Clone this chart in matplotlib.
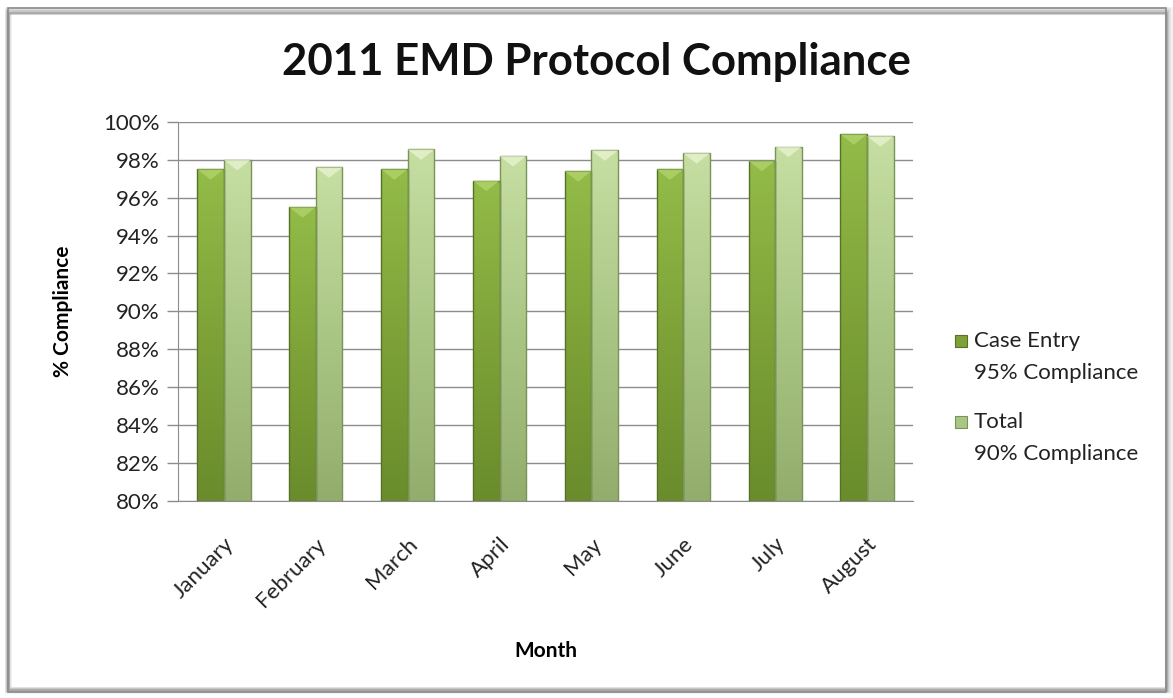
import numpy as np
import matplotlib.pyplot as plt
from matplotlib.patches import Rectangle, Polygon
from matplotlib.colors import LinearSegmentedColormap

months = ['January', 'February', 'March', 'April', 'May', 'June', 'July', 'August']
case_entry = [97.5, 95.5, 97.5, 96.9, 97.4, 97.5, 97.95, 99.35]
total = [98.0, 97.6, 98.55, 98.2, 98.5, 98.35, 98.7, 99.25]
y_ticks = [80, 82, 84, 86, 88, 90, 92, 94, 96, 98, 100]
series_names = ['Case Entry\n95% Compliance', 'Total\n90% Compliance']

plt.rcParams['font.family'] = ['Lato', 'DejaVu Sans']

fig = plt.figure(figsize=(11.73, 6.98), dpi=100)
fig.patch.set_facecolor('white')

# frame with soft shadow
for i, a in enumerate([0.08, 0.12, 0.18, 0.3]):
    off = (4 - i) * 1.0
    fig.patches.append(Rectangle((8 / 1173, 8 / 698), (1157 + off) / 1173, (684 + off) / 698 - 2 * 8 / 698 + 8 / 698,
                                 transform=fig.transFigure, fill=False, edgecolor='#606060',
                                 linewidth=1 + (4 - i), alpha=a, zorder=0))
fig.patches.append(Rectangle((8 / 1173, 6 / 698), 1158 / 1173, 684 / 698, transform=fig.transFigure,
                             fill=False, edgecolor='#8a8a8a', linewidth=1.2))

ax = fig.add_axes([178 / 1173, 1 - 500.7 / 698, 735 / 1173, (500.7 - 122) / 698])

x = np.arange(len(months))
w = 0.29
cmap_case = LinearSegmentedColormap.from_list('c', ['#6a8c2c', '#7ea238', '#92bb48'])
cmap_tot = LinearSegmentedColormap.from_list('t', ['#93ad6c', '#aac685', '#c6dea2'])

ax.set_xlim(-0.5, len(months) - 0.5)
ax.set_ylim(80, 100)

def draw_bars(xs, vals, cmap, edge, bevel):
    bars = ax.bar(xs, np.array(vals) - 80, w, bottom=80, color='none', edgecolor=edge, linewidth=1.0, zorder=3)
    grad = np.linspace(0, 1, 100).reshape(-1, 1)
    for b, v in zip(bars, vals):
        x0 = b.get_x()
        im = ax.imshow(grad, cmap=cmap, aspect='auto', extent=[x0, x0 + w, 80, v], origin='lower', zorder=2)
        im.set_clip_path(b)
        tri = Polygon([[x0, v], [x0 + w, v], [x0 + w / 2, v - 0.55]], closed=True,
                      facecolor=bevel, edgecolor='none', alpha=0.75, zorder=4)
        ax.add_patch(tri)
    return bars

draw_bars(x - w / 2, case_entry, cmap_case, '#557225', '#b3d66e')
draw_bars(x + w / 2, total, cmap_tot, '#7a9358', '#eaf5d2')

ax.set_yticks(y_ticks)
ax.set_yticklabels([f'{t}%' for t in y_ticks], fontsize=16, color='#222222')
ax.yaxis.grid(True, color='#8c8c8c', linewidth=1.0, zorder=0)
ax.set_axisbelow(True)
ax.set_xticks(x)
ax.set_xticklabels(months, rotation=45, ha='right', rotation_mode='anchor', fontsize=16, color='#222222')
ax.tick_params(axis='x', length=0, pad=24)
ax.tick_params(axis='y', length=8, color='#8c8c8c', width=1.0, pad=5)
for s in ['top', 'right']:
    ax.spines[s].set_visible(False)
ax.spines['left'].set_color('#8c8c8c')
ax.spines['bottom'].set_color('#8c8c8c')

ax.set_xlabel('Month', fontsize=15, fontweight='bold', labelpad=22)
ax.set_ylabel('% Compliance', fontsize=15, fontweight='bold', labelpad=22)
fig.text(596 / 1173, 1 - 62 / 698, '2011 EMD Protocol Compliance', fontsize=31.5, fontweight='bold',
         ha='center', va='center', color='#111111')

# legend
leg_colors = [('#7ea238', '#557225'), ('#aac685', '#7a9358')]
leg_y = [341, 422]
for (fc, ec), yy, name in zip(leg_colors, leg_y, series_names):
    fig.patches.append(Rectangle((955 / 1173, 1 - (yy + 6) / 698), 12 / 1173, 12 / 698,
                                 transform=fig.transFigure, facecolor=fc, edgecolor=ec, linewidth=0.8))
    first, second = name.split('\n')
    fig.text(974 / 1173, 1 - yy / 698, first, fontsize=16, va='center', ha='left', color='#222222')
    fig.text(974 / 1173, 1 - (yy + 32) / 698, second, fontsize=16, va='center', ha='left', color='#222222')

fig.savefig('out.png', dpi=100)
